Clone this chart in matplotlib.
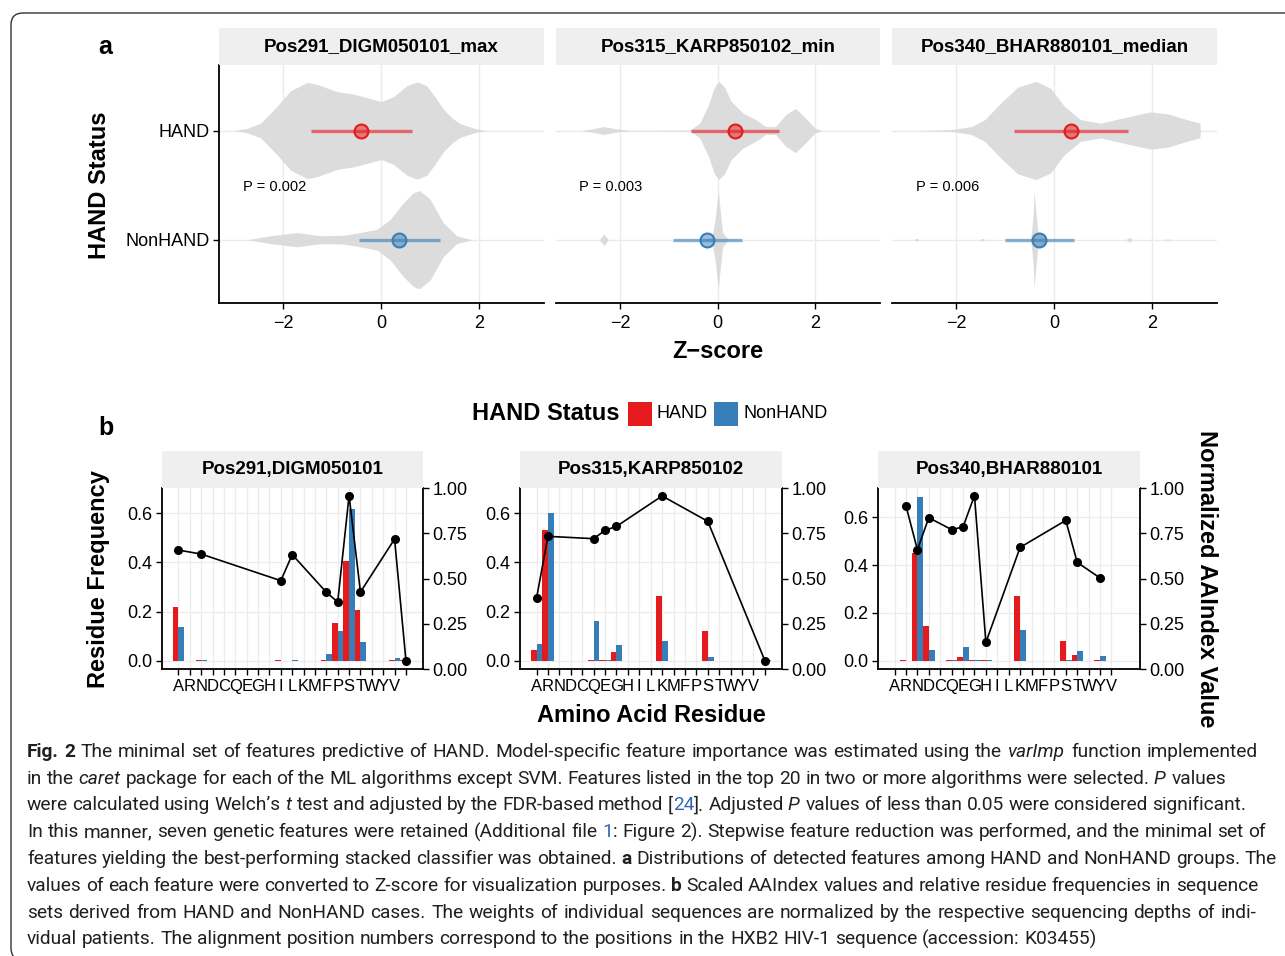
import numpy as np
import matplotlib
matplotlib.use("Agg")
import matplotlib.pyplot as plt
from matplotlib.patches import Rectangle, FancyBboxPatch
from matplotlib.transforms import IdentityTransform

plt.rcParams["font.family"] = ["Liberation Sans", "DejaVu Sans"]

W, H = 1285, 956
RED = "#E41A1C"
BLUE = "#377EB8"
STRIP = "#EFEFEF"
GRID = "#EBEBEB"
VIOLIN = "#D9D9D9"

# ---------------- panel a data ----------------
FEATURES_A = ["Pos291_DIGM050101_max", "Pos315_KARP850102_min",
              "Pos340_BHAR880101_median"]
P_VALUES = ["P = 0.002", "P = 0.003", "P = 0.006"]

# violin outlines: Z-score, relative half width
v291_hand_z = [-3.01, -2.75, -2.46, -2.12, -1.85, -1.51, -1.31, -0.90, -0.56,
               -0.22, 0.0, 0.25, 0.52, 0.73, 0.93, 1.10, 1.27, 1.45, 1.61,
               1.95, 2.15]
v291_hand_w = [0.0, 0.04, 0.15, 0.50, 0.81, 0.98, 0.94, 0.79, 0.74, 0.65,
               0.59, 0.69, 0.91, 0.99, 0.91, 0.68, 0.43, 0.25, 0.14, 0.03, 0.0]
v291_non_z = [-2.74, -2.26, -1.72, -1.24, -0.77, -0.43, -0.09, 0.18, 0.45,
              0.66, 0.78, 1.0, 1.15, 1.27, 1.54, 1.85]
v291_non_w = [0.0, 0.08, 0.145, 0.08, 0.09, 0.145, 0.21, 0.41, 0.75, 0.96,
              1.0, 0.82, 0.55, 0.34, 0.08, 0.0]

v315_hand_z = [-2.80, -2.60, -2.33, -2.06, -1.79, -0.57, -0.37, -0.20, -0.07,
               0.02, 0.14, 0.27, 0.51, 0.78, 0.98, 1.18, 1.39, 1.59, 1.79,
               1.99, 2.13]
v315_hand_w = [0.0, 0.03, 0.08, 0.03, 0.005, 0.01, 0.15, 0.50, 0.88, 1.0,
               0.88, 0.60, 0.36, 0.22, 0.08, 0.08, 0.32, 0.45, 0.26, 0.05, 0.0]
v315_non_z = [-2.42, -2.33, -2.24, -0.30, -0.12, -0.05, 0.01, 0.05, 0.10,
              0.20, 0.30]
v315_non_w = [0.0, 0.12, 0.0, 0.0, 0.04, 0.45, 1.0, 0.60, 0.15, 0.02, 0.0]

v340_hand_z = [-2.80, -2.10, -1.69, -1.42, -1.08, -0.75, -0.37, -0.07, 0.20,
               0.54, 0.95, 1.42, 1.97, 2.31, 2.71, 2.97, 2.98]
v340_hand_w = [0.0, 0.02, 0.08, 0.22, 0.57, 0.88, 1.0, 0.86, 0.50, 0.22,
               0.15, 0.26, 0.38, 0.34, 0.22, 0.15, 0.0]
v340_non_z = [-2.86, -2.81, -2.76, -1.52, -1.47, -1.42, -0.48, -0.43, -0.41,
              -0.37, -0.33, -0.27, -0.20, -0.16, 1.46, 1.53, 1.60, 2.26, 2.31,
              2.36]
v340_non_w = [0.0, 0.03, 0.0, 0.0, 0.03, 0.0, 0.0, 0.5, 1.0, 0.5, 0.12, 0.15,
              0.12, 0.0, 0.0, 0.05, 0.0, 0.0, 0.02, 0.0]

# mean and spread (line ends) per feature
hand_mean = [-0.41, 0.35, 0.34]
hand_lo = [-1.43, -0.55, -0.83]
hand_hi = [0.62, 1.26, 1.51]
non_mean = [0.37, -0.21, -0.31]
non_lo = [-0.46, -0.91, -1.00]
non_hi = [1.19, 0.49, 0.41]

# ---------------- panel b data ----------------
RESIDUES = list("ARNDCQEGHILKMFPSTWYV") + ["-"]
FEATURES_B = ["Pos291,DIGM050101", "Pos315,KARP850102", "Pos340,BHAR880101"]

freq291_hand = [0.22, 0, 0.003, 0, 0, 0, 0, 0, 0, 0.003, 0.001, 0, 0, 0.003,
                0.155, 0.405, 0.207, 0, 0, 0.003, 0.003]
freq291_non = [0.138, 0, 0.002, 0, 0, 0, 0, 0, 0, 0.001, 0.003, 0, 0, 0.028,
               0.119, 0.616, 0.078, 0, 0, 0.012, 0]
aa291_res = ["A", "N", "I", "L", "F", "P", "S", "T", "V", "-"]
aa291_val = [0.657, 0.635, 0.488, 0.632, 0.424, 0.370, 0.958, 0.425, 0.718,
             0.046]

freq315_hand = [0.045, 0.531, 0, 0, 0, 0.002, 0.003, 0.036, 0, 0, 0, 0.264,
                0, 0, 0, 0.122, 0, 0, 0, 0, 0.001]
freq315_non = [0.069, 0.601, 0, 0, 0, 0.162, 0.002, 0.065, 0, 0, 0, 0.081,
               0, 0, 0, 0.016, 0, 0, 0, 0, 0.002]
aa315_res = ["A", "R", "Q", "E", "G", "K", "S", "-"]
aa315_val = [0.392, 0.733, 0.720, 0.766, 0.788, 0.956, 0.816, 0.046]

freq340_hand = [0, 0.002, 0.450, 0.146, 0, 0.002, 0.014, 0.003, 0.003, 0, 0,
                0.270, 0, 0, 0, 0.083, 0.025, 0, 0.002, 0, 0]
freq340_non = [0, 0.001, 0.686, 0.046, 0, 0.003, 0.058, 0.002, 0.005, 0, 0,
               0.129, 0, 0, 0, 0.005, 0.039, 0, 0.021, 0, 0]
aa340_res = ["R", "N", "D", "Q", "E", "G", "H", "K", "S", "T", "Y"]
aa340_val = [0.902, 0.659, 0.836, 0.770, 0.785, 0.958, 0.147, 0.672, 0.821,
             0.589, 0.503]

# ---------------- caption ----------------
CAPTION = [
    [("Fig. 2", "b"), (" The minimal set of features predictive of HAND. Model-specific feature importance was estimated using the ", "n"),
     ("varImp", "i"), (" function implemented", "n")],
    [("in the ", "n"), ("caret", "i"),
     (" package for each of the ML algorithms except SVM. Features listed in the top 20 in two or more algorithms were selected. ", "n"),
     ("P", "i"), (" values", "n")],
    [("were calculated using Welch\u2019s ", "n"), ("t", "i"),
     (" test and adjusted by the FDR-based method [", "n"), ("24", "l"),
     ("]. Adjusted ", "n"), ("P", "i"),
     (" values of less than 0.05 were considered significant.", "n")],
    [("In this manner, seven genetic features were retained (Additional file ", "n"),
     ("1", "l"),
     (": Figure 2). Stepwise feature reduction was performed, and the minimal set of", "n")],
    [("features yielding the best-performing stacked classifier was obtained. ", "n"),
     ("a", "b"), (" Distributions of detected features among HAND and NonHAND groups. The", "n")],
    [("values of each feature were converted to Z-score for visualization purposes. ", "n"),
     ("b", "b"), (" Scaled AAIndex values and relative residue frequencies in sequence", "n")],
    [("sets derived from HAND and NonHAND cases. The weights of individual sequences are normalized by the respective sequencing depths of indi-", "n")],
    [("vidual patients. The alignment position numbers correspond to the positions in the HXB2 HIV-1 sequence (accession: K03455)", "n")],
]
LINE_RIGHT = [1258, 1226, 1246, 1266, 1277, 1258, 1256, None]


def frac(l, t, r, b):
    return [l / W, 1 - b / H, (r - l) / W, (b - t) / H]


def strip(fig, l, t, r, b, label):
    fig.patches.append(Rectangle((l / W, 1 - b / H), (r - l) / W, (b - t) / H,
                                 transform=fig.transFigure, facecolor=STRIP,
                                 edgecolor="none", zorder=0))
    fig.text((l + r) / 2 / W, 1 - (t + b) / 2 / H, label, ha="center",
             va="center", fontsize=13.5, fontweight="bold")


def main():
    fig = plt.figure(figsize=(W / 100, H / 100), dpi=100)

    # border frame
    fig.patches.append(FancyBboxPatch((11, -4), 1300, 947,
                                      boxstyle="round,pad=0,rounding_size=12",
                                      transform=IdentityTransform(),
                                      facecolor="none", edgecolor="#333333",
                                      linewidth=1.0))

    # ================= panel a =================
    violins = [((v291_hand_z, v291_hand_w), (v291_non_z, v291_non_w)),
               ((v315_hand_z, v315_hand_w), (v315_non_z, v315_non_w)),
               ((v340_hand_z, v340_hand_w), (v340_non_z, v340_non_w))]
    a_x = [(219, 544), (556, 880), (892, 1217)]
    for i, (l, r) in enumerate(a_x):
        ax = fig.add_axes(frac(l, 65, r, 303))
        strip(fig, l, 28, r, 65, FEATURES_A[i])
        for xg in (-2, 0, 2):
            ax.axvline(xg, color=GRID, lw=1.0, zorder=0)
        for yg in (1, 2):
            ax.axhline(yg, color=GRID, lw=1.0, zorder=0)
        (hz, hw), (nz, nw) = violins[i]
        for y0, zz, ww in ((2, hz, hw), (1, nz, nw)):
            zz = np.array(zz)
            ww = np.array(ww) * 0.45
            ax.fill_between(zz, y0 - ww, y0 + ww, color=VIOLIN, lw=0,
                            alpha=0.9, zorder=1)
        ax.plot([hand_lo[i], hand_hi[i]], [2, 2], color=RED, lw=2.4,
                alpha=0.6, solid_capstyle="butt", zorder=3)
        ax.plot([hand_mean[i]], [2], "o", ms=10, mfc=(0.894, 0.102, 0.11, 0.5),
                mec=RED, mew=1.5, zorder=4)
        ax.plot([non_lo[i], non_hi[i]], [1, 1], color=BLUE, lw=2.4,
                alpha=0.6, solid_capstyle="butt", zorder=3)
        ax.plot([non_mean[i]], [1], "o", ms=10, mfc=(0.216, 0.494, 0.722, 0.5),
                mec=BLUE, mew=1.5, zorder=4)
        ax.text(-2.83, 1.48, P_VALUES[i], fontsize=10.5, ha="left",
                va="center")
        ax.set_xlim(-3.31, 3.32)
        ax.set_ylim(0.42, 2.6)
        ax.set_xticks([-2, 0, 2])
        ax.set_xticklabels(["\u22122", "0", "2"], fontsize=13)
        ax.tick_params(axis="x", length=4, width=1, pad=5)
        for s in ("top", "right"):
            ax.spines[s].set_visible(False)
        ax.spines["bottom"].set_linewidth(1.3)
        if i == 0:
            ax.set_yticks([2, 1])
            ax.set_yticklabels(["HAND", "NonHAND"], fontsize=13)
            ax.tick_params(axis="y", length=4, width=1, pad=3)
            ax.spines["left"].set_linewidth(1.3)
        else:
            ax.set_yticks([])
            ax.spines["left"].set_visible(False)
        ax.set_facecolor("none")

    fig.text(105 / W, 1 - 47 / H, "a", fontsize=18, fontweight="bold",
             ha="center", va="center")
    fig.text(100 / W, 1 - 185 / H, "HAND Status", fontsize=17,
             fontweight="bold", rotation=90, ha="center", va="center")
    fig.text(718 / W, 1 - 351 / H, "Z\u2212score", fontsize=17,
             fontweight="bold", ha="center", va="center")

    # ================= panel b =================
    fig.text(106 / W, 1 - 428 / H, "b", fontsize=18, fontweight="bold",
             ha="center", va="center")
    fig.text(546 / W, 1 - 414 / H, "HAND Status", fontsize=17,
             fontweight="bold", ha="center", va="center")
    for x0, col, lab in ((628, RED, "HAND"), (714, BLUE, "NonHAND")):
        fig.patches.append(Rectangle((x0 / W, 1 - 426 / H), 24 / W, 24 / H,
                                     transform=fig.transFigure,
                                     facecolor=col, edgecolor="none"))
        fig.text((x0 + 29) / W, 1 - 414 / H, lab, fontsize=13, ha="left",
                 va="center")

    freqs = [(freq291_hand, freq291_non), (freq315_hand, freq315_non),
             (freq340_hand, freq340_non)]
    lines = [(aa291_res, aa291_val), (aa315_res, aa315_val),
             (aa340_res, aa340_val)]
    yl_top = [0.702, 0.702, 0.722]
    n_ticks = [21, 21, 20]
    b_x = [(162, 423), (520, 782), (878, 1140)]
    pos = np.arange(1, len(RESIDUES) + 1)
    for i, (l, r) in enumerate(b_x):
        ax = fig.add_axes(frac(l, 488, r, 669))
        strip(fig, l, 451, r, 488, FEATURES_B[i])
        ax.set_xlim(-0.45, 22.5)
        ax.set_ylim(-yl_top[i] * 0.0476, yl_top[i])
        for xg in pos[:n_ticks[i]]:
            ax.axvline(xg, color=GRID, lw=0.9, zorder=0)
        for yg in (0, 0.2, 0.4, 0.6):
            ax.axhline(yg, color=GRID, lw=0.9, zorder=0)
        hand, non = freqs[i]
        ax.bar(pos - 0.25, hand, width=0.5, color=RED, zorder=2)
        ax.bar(pos + 0.25, non, width=0.5, color=BLUE, zorder=2)
        ax.set_yticks([0, 0.2, 0.4, 0.6])
        ax.set_yticklabels(["0.0", "0.2", "0.4", "0.6"], fontsize=13)
        ax.set_xticks(pos[:n_ticks[i]])
        labs = [c if c != "-" else "" for c in RESIDUES[:n_ticks[i]]]
        ax.set_xticklabels(labs, fontsize=12)
        ax.tick_params(axis="both", length=4, width=1, pad=3)
        for s in ("top", "right"):
            ax.spines[s].set_visible(False)
        for s in ("left", "bottom"):
            ax.spines[s].set_linewidth(1.3)

        ax2 = ax.twinx()
        res, val = lines[i]
        xs = [RESIDUES.index(c) + 1 for c in res]
        ax2.plot(xs, val, "-o", color="black", lw=1.2, ms=5.5, zorder=5)
        ax2.set_ylim(0, 1)
        ax2.set_yticks([0, 0.25, 0.5, 0.75, 1.0])
        ax2.set_yticklabels(["0.00", "0.25", "0.50", "0.75", "1.00"],
                            fontsize=13)
        ax2.tick_params(axis="y", length=4, width=1, pad=3)
        for s in ("top", "left", "bottom"):
            ax2.spines[s].set_visible(False)
        ax2.spines["right"].set_linewidth(1.3)

    fig.text(99 / W, 1 - 579 / H, "Residue Frequency", fontsize=17,
             fontweight="bold", rotation=90, ha="center", va="center")
    fig.text(651 / W, 1 - 716 / H, "Amino Acid Residue", fontsize=17,
             fontweight="bold", ha="center", va="center")
    fig.text(1207 / W, 1 - 579 / H, "Normalized AAIndex Value", fontsize=17,
             fontweight="bold", rotation=-90, ha="center", va="center")

    # ================= caption =================
    renderer = fig.canvas.get_renderer()
    cap_font = ["Roboto", "DejaVu Sans"]
    styles = {"n": {}, "b": {"fontweight": "bold"},
              "i": {"fontstyle": "italic"}, "l": {"color": "#3366bb"}}

    def width(txt, fs, st):
        t = fig.text(0, 0, txt, fontsize=fs, family=cap_font, **styles[st])
        w = t.get_window_extent(renderer).width
        t.remove()
        return w + (1.5 if st == "i" else 0.0)

    def words_of(segs):
        words = [[]]
        for txt, st in segs:
            parts = txt.split(" ")
            for k, p in enumerate(parts):
                if k > 0:
                    words.append([])
                if p:
                    words[-1].append((p, st))
        return [w for w in words if w]

    fs0 = 12.0
    last = words_of(CAPTION[-1])
    sp0 = width("a a", fs0, "n") - width("aa", fs0, "n")
    nat = sum(width(p, fs0, s) for w in last for p, s in w) + sp0 * (len(last) - 1)
    fs = fs0 * (1090 - 27) / nat
    sp = width("a a", fs, "n") - width("aa", fs, "n")

    for k, segs in enumerate(CAPTION):
        words = words_of(segs)
        wl = [[(p, s, width(p, fs, s)) for p, s in w] for w in words]
        total = sum(pw for w in wl for _, _, pw in w)
        if LINE_RIGHT[k] is None:
            gap = sp
        else:
            gap = (LINE_RIGHT[k] - 27 - total) / (len(wl) - 1)
        x = 27.0
        yb = 757 + k * 26.75
        for w in wl:
            for p, s, pw in w:
                fig.text(x / W, 1 - yb / H, p, fontsize=fs, family=cap_font,
                         va="baseline", ha="left",
                         color=styles[s].get("color", "#231f20"),
                         **{kk: vv for kk, vv in styles[s].items() if kk != "color"})
                x += pw
            x += gap

    fig.savefig("out.png", dpi=100, facecolor="white")
    plt.close(fig)


if __name__ == "__main__":
    main()
